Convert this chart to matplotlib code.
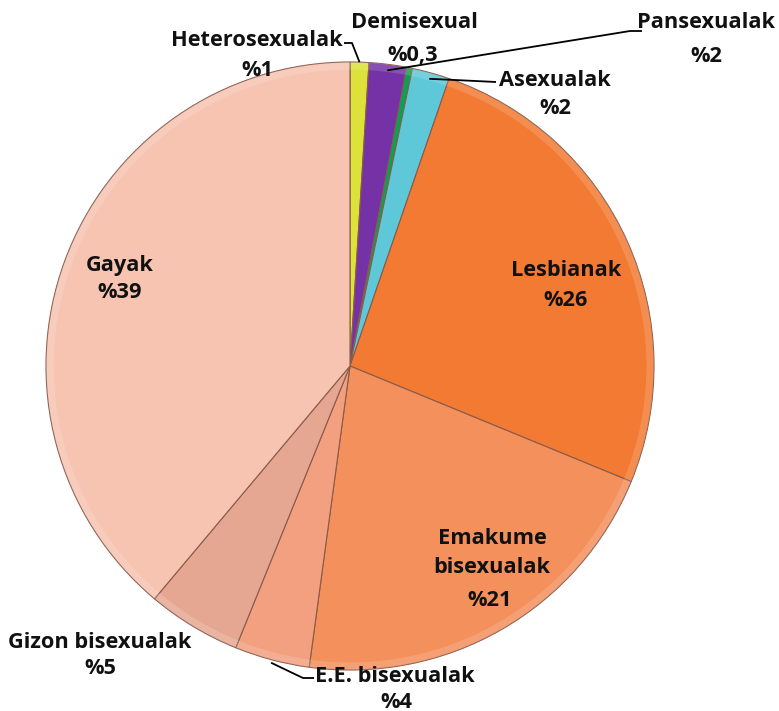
import numpy as np
import matplotlib
matplotlib.use("Agg")
from matplotlib import pyplot as plt

# values, clockwise from 12 o'clock
labels = ['Heterosexualak', 'Pansexualak', 'Demisexual', 'Asexualak', 'Lesbianak',
          'Emakume\nbisexualak', 'E.E. bisexualak', 'Gizon bisexualak', 'Gayak']
pct_text = ['%1', '%2', '%0,3', '%2', '%26', '%21', '%4', '%5', '%39']
values = [1, 2, 0.3, 2, 26, 21, 4, 5, 39]
colors = ['#dce23a', '#7532a6', '#00a651', '#5ec8d8', '#f27a32',
          '#f4905c', '#f2a080', '#e6a792', '#f7c4b2']

W, H = 779, 711
CX, CY, R = 350, 366, 304

plt.rcParams['font.family'] = ['Open Sans', 'DejaVu Sans']

fig = plt.figure(figsize=(W / 100, H / 100), dpi=100)
ax = fig.add_axes([(CX - R) / W, (H - CY - R) / H, 2 * R / W, 2 * R / H])

wedges, _ = ax.pie(values, colors=colors, startangle=90, counterclock=False, radius=1,
                   wedgeprops=dict(edgecolor='#8a5a4a', linewidth=0.8))
# soft rim highlight for the bevelled look
ax.pie(values, colors=['white'] * len(values), startangle=90, counterclock=False, radius=1,
       wedgeprops=dict(width=0.025, alpha=0.15, linewidth=0))
ax.set_xlim(-1, 1)
ax.set_ylim(-1, 1)
ax.set_aspect('equal')
ax.axis('off')


def px(x, y):
    # pixel position in the picture -> data coords of the pie axes
    return (x - CX) / R, (CY - y) / R


def anchor(i, r=0.99):
    w = wedges[i]
    a = np.deg2rad((w.theta1 + w.theta2) / 2)
    return r * np.cos(a), r * np.sin(a)


# label centres (pixels): name line, percent line
label_pos = {
    0: ((257, 40), (257, 70)),
    1: ((706, 23), (706, 57)),
    2: ((414, 22), (413, 55)),
    3: ((555, 80), (555, 108)),
    4: ((566, 270), (566, 300)),
    5: ((492, 553), (490, 601)),
    6: ((395, 676), (396, 702)),
    7: ((100, 642), (100, 669)),
    8: ((120, 265), (120, 293)),
}

for i, (p1, p2) in label_pos.items():
    ax.text(*px(*p1), labels[i], ha='center', va='center', fontsize=15.7,
            fontweight='bold', color='#111111', linespacing=1.5)
    ax.text(*px(*p2), pct_text[i], ha='center', va='center', fontsize=15.7,
            fontweight='bold', color='#111111')

# leader lines
lk = dict(color='black', linewidth=1.3, clip_on=False, solid_capstyle='butt')
x0, y0 = anchor(0, 1.0)
pts = [px(344, 43), px(352, 43), (x0, y0)]
ax.plot([p[0] for p in pts], [p[1] for p in pts], **lk)

x1, y1 = anchor(1, 0.98)
pts = [(x1, y1), px(630, 31), px(642, 31)]
ax.plot([p[0] for p in pts], [p[1] for p in pts], **lk)

x3, y3 = anchor(3, 0.98)
pts = [(x3, y3), px(455, 80), px(496, 82)]
ax.plot([p[0] for p in pts], [p[1] for p in pts], **lk)

x6, y6 = anchor(6, 1.01)
pts = [(x6, y6), px(303, 678), px(314, 678)]
ax.plot([p[0] for p in pts], [p[1] for p in pts], **lk)

fig.savefig('out.png', dpi=100, facecolor='white')
